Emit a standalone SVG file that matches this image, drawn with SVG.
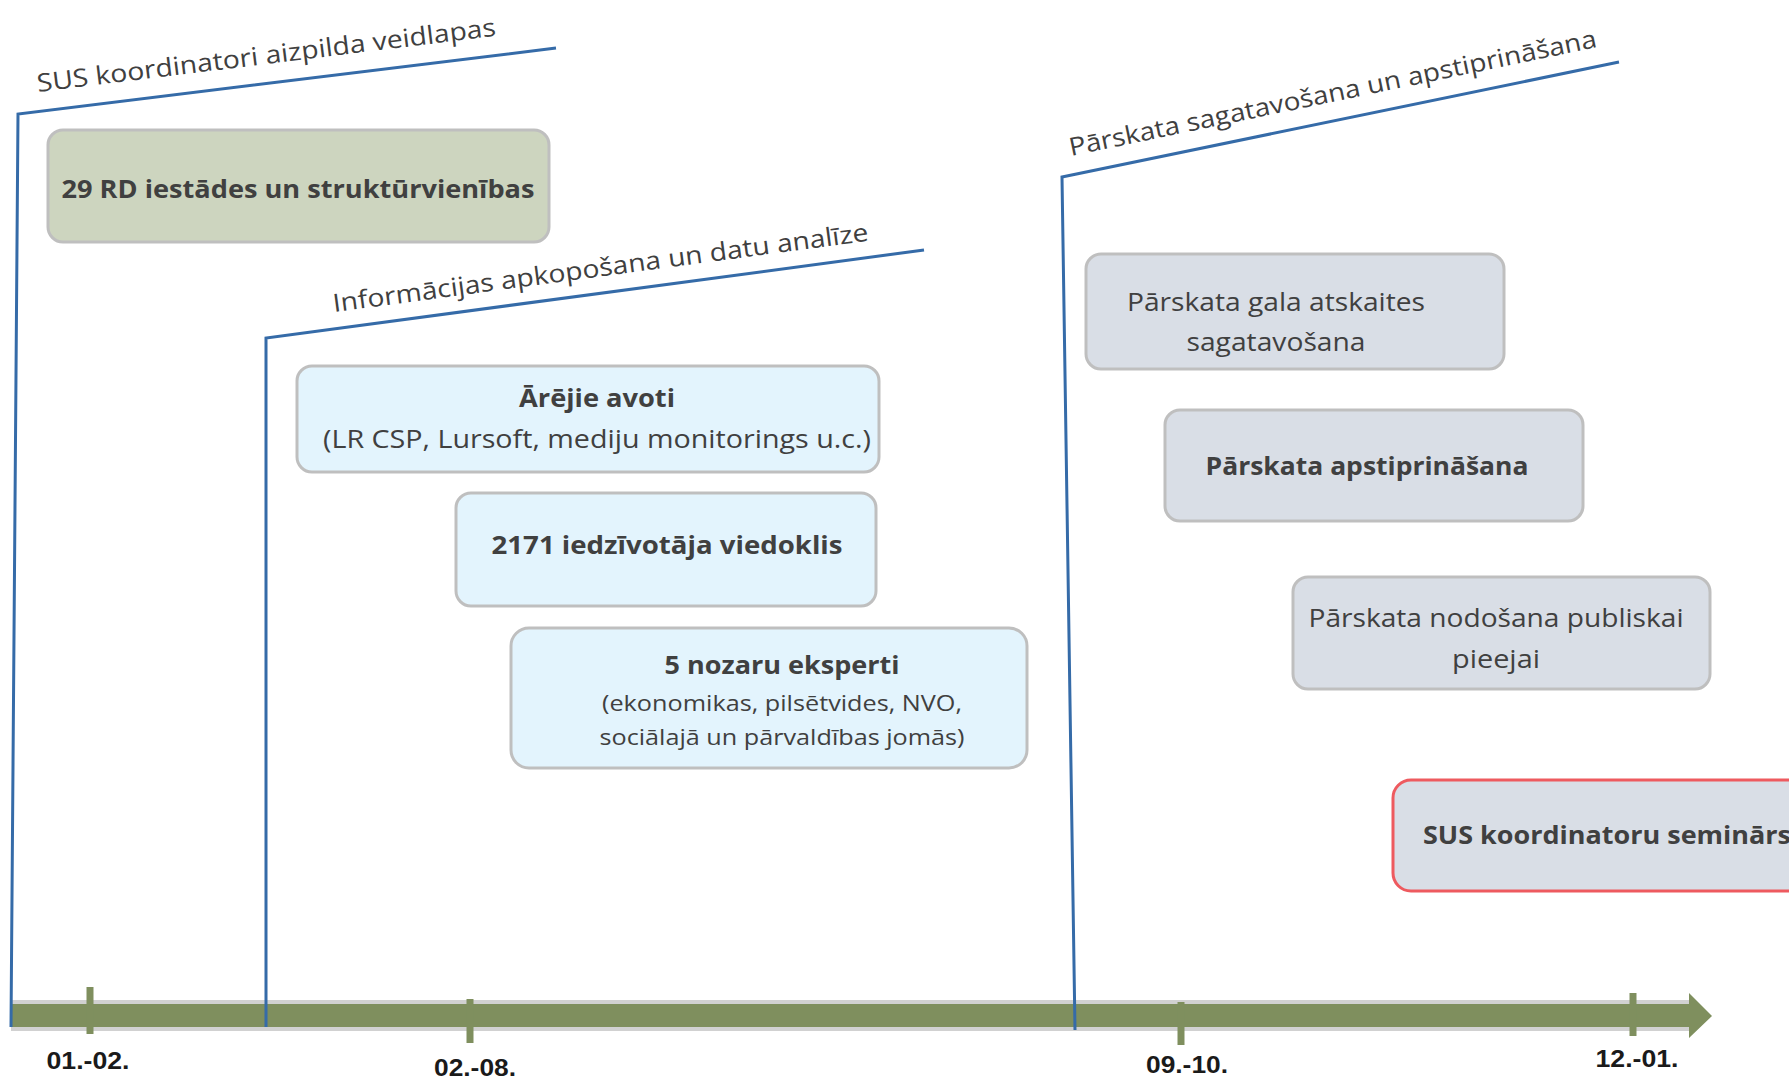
<svg xmlns="http://www.w3.org/2000/svg" width="1789" height="1078" viewBox="0 0 1789 1078">
<style>
.t{font-family:"Open Sans",Lato,"Liberation Sans",sans-serif;fill:#404040;font-size:25px}
.b{font-weight:bold}
.c{text-anchor:middle}
.box{stroke:#bfbfbf;stroke-width:3}
.g{fill:#cdd5bf}
.bl{fill:#e3f4fd}
.gr{fill:#d9dee6}
.red{fill:#d9dee6;stroke:#ee5a5f;stroke-width:3}
.ph{fill:none;stroke:#356ba8;stroke-width:3}
.tick{stroke:#7f8f5e;stroke-width:7}
.dt{font-family:"Liberation Sans Narrow","Liberation Sans",sans-serif;font-weight:bold;font-size:24px;fill:#1a1a1a;text-anchor:middle}
</style>
<rect width="1789" height="1078" fill="#ffffff"/>
<g id="timeline">
<rect x="11" y="1000" width="1680" height="31" fill="#b3b3b3" opacity="0.6"/>
<polygon points="11,1004 1689,1004 1689,993 1712,1016 1689,1038 1689,1027 11,1027" fill="#7f8f5e"/>
<line class="tick" x1="90" y1="987" x2="90" y2="1034"/>
<line class="tick" x1="470" y1="999" x2="470" y2="1043"/>
<line class="tick" x1="1181" y1="1002" x2="1181" y2="1045"/>
<line class="tick" x1="1633" y1="993" x2="1633" y2="1036"/>
<text class="dt" x="88" y="1069" textLength="83" lengthAdjust="spacingAndGlyphs">01.-02.</text>
<text class="dt" x="475" y="1076" textLength="82" lengthAdjust="spacingAndGlyphs">02.-08.</text>
<text class="dt" x="1187" y="1073" textLength="82" lengthAdjust="spacingAndGlyphs">09.-10.</text>
<text class="dt" x="1637" y="1067" textLength="83" lengthAdjust="spacingAndGlyphs">12.-01.</text>
</g>
<g id="connectors">
<polyline class="ph" points="11,1027 18,114 556,48"/>
<polyline class="ph" points="266,1027 266,338 924,250"/>
<polyline class="ph" points="1075,1030 1062,177 1619,62"/>
</g>
<g id="phase1-label"><text class="t" transform="translate(38,92) rotate(-7)" textLength="462" lengthAdjust="spacingAndGlyphs">SUS koordinatori aizpilda veidlapas</text></g>
<g id="phase2-label"><text class="t" transform="translate(334,312) rotate(-7.6)" textLength="540" lengthAdjust="spacingAndGlyphs">Informācijas apkopošana un datu analīze</text></g>
<g id="phase3-label"><text class="t" transform="translate(1071,156) rotate(-11.7)" textLength="538" lengthAdjust="spacingAndGlyphs">Pārskata sagatavošana un apstiprināšana</text></g>
<g id="n-rd">
<rect class="box g" x="48" y="130" width="501" height="112" rx="15"/>
<text class="t b c" x="298" y="198" textLength="473" lengthAdjust="spacingAndGlyphs">29 RD iestādes un struktūrvienības</text>
</g>
<g id="n-arejie">
<rect class="box bl" x="297" y="366" width="582" height="106" rx="15"/>
<text class="t b c" x="597" y="407" textLength="156" lengthAdjust="spacingAndGlyphs">Ārējie avoti</text>
<text class="t c" x="597" y="448" textLength="548" lengthAdjust="spacingAndGlyphs">(LR CSP, Lursoft, mediju monitorings u.c.)</text>
</g>
<g id="n-2171">
<rect class="box bl" x="456" y="493" width="420" height="113" rx="15"/>
<text class="t b c" x="667" y="554" textLength="351" lengthAdjust="spacingAndGlyphs">2171 iedzīvotāja viedoklis</text>
</g>
<g id="n-eksperti">
<rect class="box bl" x="511" y="628" width="516" height="140" rx="18"/>
<text class="t b c" x="782" y="674" textLength="235" lengthAdjust="spacingAndGlyphs">5 nozaru eksperti</text>
<text class="t c" x="782" y="711" style="font-size:22px" textLength="360" lengthAdjust="spacingAndGlyphs">(ekonomikas, pilsētvides, NVO,</text>
<text class="t c" x="782" y="745" style="font-size:22px" textLength="365" lengthAdjust="spacingAndGlyphs">sociālajā un pārvaldības jomās)</text>
</g>
<g id="n-gala">
<rect class="box gr" x="1086" y="254" width="418" height="115" rx="15"/>
<text class="t c" x="1276" y="311" textLength="298" lengthAdjust="spacingAndGlyphs">Pārskata gala atskaites</text>
<text class="t c" x="1276" y="351" textLength="179" lengthAdjust="spacingAndGlyphs">sagatavošana</text>
</g>
<g id="n-apstipr">
<rect class="box gr" x="1165" y="410" width="418" height="111" rx="15"/>
<text class="t b c" x="1367" y="475" textLength="323" lengthAdjust="spacingAndGlyphs">Pārskata apstiprināšana</text>
</g>
<g id="n-nodosana">
<rect class="box gr" x="1293" y="577" width="417" height="112" rx="15"/>
<text class="t c" x="1496" y="627" textLength="375" lengthAdjust="spacingAndGlyphs">Pārskata nodošana publiskai</text>
<text class="t c" x="1496" y="668" textLength="88" lengthAdjust="spacingAndGlyphs">pieejai</text>
</g>
<g id="n-seminars">
<rect class="red" x="1393" y="780" width="460" height="111" rx="18"/>
<text class="t b" x="1423" y="844" textLength="368" lengthAdjust="spacingAndGlyphs">SUS koordinatoru seminārs</text>
</g>
</svg>
